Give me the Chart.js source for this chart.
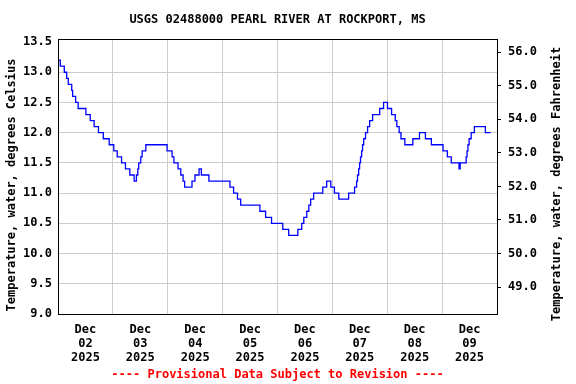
<!DOCTYPE html>
<html>
<head>
<meta charset="utf-8">
<script src="https://cdn.jsdelivr.net/npm/chart.js@4"></script>
<style>
  body { margin: 0; background: #fff; }
  canvas { display: block; }
</style>
</head>
<body>
<canvas id="chart-temp" width="576" height="384"></canvas>
<script>
// ==========================================
// Data
// ==========================================

const TITLE = 'USGS 02488000 PEARL RIVER AT ROCKPORT, MS';
const FOOTER = '---- Provisional Data Subject to Revision ----';
const Y_TITLE_LEFT = 'Temperature, water, degrees Celsius';
const Y_TITLE_RIGHT = 'Temperature, water, degrees Fahrenheit';

const MONTH_LABEL = 'Dec';
const YEAR_LABEL = '2025';
const DAY_LABELS = ['02', '03', '04', '05', '06', '07', '08', '09'];

// hours since Dec 02 00:00, and water temperature (deg C) from that hour on
const HOURS = [
  0, 1.0, 2.75, 3.8, 4.5, 6.0, 6.4, 7.7, 8.8, 12.2, 14.1, 15.8, 17.7, 19.8, 22.4,
  24.4, 25.9, 27.8, 29.5, 31.4, 33.3, 34.3, 34.9, 35.3, 36.2, 36.8, 38.4, 47.7,
  49.9, 50.7, 52.5, 53.7, 54.7, 55.4, 58.6, 59.9, 61.7, 62.7, 66.0,
  75.2, 76.8, 78.5, 79.9, 88.3, 90.8, 93.4, 98.3,
  100.9, 104.9, 106.6, 107.5, 108.8, 109.7, 110.5, 111.8, 115.8, 117.5, 119.3, 120.9,
  122.8, 127.1, 129.7, 130.6, 131.0, 131.5, 131.9, 132.3, 132.8, 133.2, 133.7, 134.5,
  135.4, 136.3, 137.6, 140.7, 142.4, 144.1, 145.9, 147.5, 148.2, 149.2, 150.0, 151.7,
  155.2, 158.1, 160.7, 163.3, 168.4, 170.3, 172.0, 175.4, 175.9, 178.5, 178.9, 179.3,
  179.8, 180.7, 182.1, 186.9, 189.2
];
const TEMP_C = [
  13.2, 13.1, 13.0, 12.9, 12.8, 12.7, 12.6, 12.5, 12.4, 12.3, 12.2, 12.1, 12.0, 11.9, 11.8,
  11.7, 11.6, 11.5, 11.4, 11.3, 11.2, 11.3, 11.4, 11.5, 11.6, 11.7, 11.8, 11.7,
  11.6, 11.5, 11.4, 11.3, 11.2, 11.1, 11.2, 11.3, 11.4, 11.3, 11.2,
  11.1, 11.0, 10.9, 10.8, 10.7, 10.6, 10.5, 10.4,
  10.3, 10.4, 10.5, 10.6, 10.7, 10.8, 10.9, 11.0, 11.1, 11.2, 11.1, 11.0,
  10.9, 11.0, 11.1, 11.2, 11.3, 11.4, 11.5, 11.6, 11.7, 11.8, 11.9, 12.0,
  12.1, 12.2, 12.3, 12.4, 12.5, 12.4, 12.3, 12.2, 12.1, 12.0, 11.9, 11.8,
  11.9, 12.0, 11.9, 11.8, 11.7, 11.6, 11.5, 11.4, 11.5, 11.6, 11.7, 11.8,
  11.9, 12.0, 12.1, 12.0, 12.0
];

const C_TICKS = [9.0, 9.5, 10.0, 10.5, 11.0, 11.5, 12.0, 12.5, 13.0, 13.5];
const F_TICKS = [49, 50, 51, 52, 53, 54, 55, 56];

const C_MIN = 9.0;
const C_MAX = 13.55;
const X_MAX = 192;

const FONT = 'DejaVu Sans Mono';
const toF = c => c * 1.8 + 32;

// ==========================================
// Titles and frame (drawn by hand)
// ==========================================

const usgsDecor = {
  id: 'usgsDecor',
  afterDatasetsDraw(chart) {
    const { ctx, chartArea } = chart;
    ctx.save();
    ctx.strokeStyle = '#000';
    ctx.lineWidth = 1;
    ctx.strokeRect(chartArea.left + 0.5, chartArea.top + 0.5,
      chartArea.right - chartArea.left, chartArea.bottom - chartArea.top);
    ctx.restore();
  },
  afterDraw(chart) {
    const { ctx, chartArea } = chart;
    const cx = (chartArea.left + chartArea.right) / 2;
    ctx.save();
    ctx.font = 'bold 12px "' + FONT + '"';
    ctx.textAlign = 'center';
    ctx.textBaseline = 'middle';

    ctx.fillStyle = '#000';
    ctx.fillText(TITLE, cx, 20);

    ctx.fillStyle = '#ff0000';
    ctx.fillText(FOOTER, cx, 375);

    ctx.fillStyle = '#000';
    ctx.save();
    ctx.translate(12, 185);
    ctx.rotate(-Math.PI / 2);
    ctx.fillText(Y_TITLE_LEFT, 0, 0);
    ctx.restore();

    ctx.save();
    ctx.translate(557, 184);
    ctx.rotate(-Math.PI / 2);
    ctx.fillText(Y_TITLE_RIGHT, 0, 0);
    ctx.restore();

    ctx.restore();
  }
};

// ==========================================
// Chart
// ==========================================

const tickFont = { family: FONT, size: 12, weight: 'bold', lineHeight: 14 / 12 };

new Chart(document.getElementById('chart-temp'), {
  type: 'line',
  data: {
    datasets: [{
      data: HOURS.map((h, i) => ({ x: h, y: TEMP_C[i] })),
      borderColor: '#0000ff',
      borderWidth: 1.3,
      pointRadius: 0,
      stepped: true,
      fill: false,
      yAxisID: 'y'
    }]
  },
  options: {
    responsive: false,
    animation: false,
    devicePixelRatio: 1,
    layout: { padding: { top: 39, left: 0, right: 0, bottom: 0 } },
    plugins: {
      legend: { display: false },
      title: { display: false },
      tooltip: { enabled: false }
    },
    scales: {
      x: {
        type: 'linear',
        min: 0,
        max: X_MAX,
        afterBuildTicks: scale => {
          const ticks = [];
          for (let v = 0; v <= X_MAX; v += 12) ticks.push({ value: v });
          scale.ticks = ticks;
        },
        afterFit: scale => { scale.height = 70; },
        border: { display: false },
        grid: {
          drawTicks: false,
          color: ctx => (ctx.tick && ctx.tick.value % 24 === 0) ? '#cccccc' : 'rgba(0,0,0,0)',
          lineWidth: 1
        },
        ticks: {
          autoSkip: false,
          maxRotation: 0,
          padding: 9,
          color: '#000',
          font: tickFont,
          callback: value => {
            if ((value - 12) % 24 !== 0) return '';
            const i = (value - 12) / 24;
            return [MONTH_LABEL, DAY_LABELS[i], YEAR_LABEL];
          }
        }
      },
      y: {
        position: 'left',
        min: C_MIN,
        max: C_MAX,
        afterBuildTicks: scale => { scale.ticks = C_TICKS.map(v => ({ value: v })); },
        afterFit: scale => { scale.width = 58; },
        border: { display: false },
        grid: {
          drawTicks: false,
          color: ctx => (ctx.tick && ctx.tick.value === 13.5) ? 'rgba(0,0,0,0)' : '#cccccc'
        },
        ticks: {
          padding: 6,
          color: '#000',
          font: tickFont,
          callback: v => Number(v).toFixed(1)
        }
      },
      yF: {
        position: 'right',
        min: toF(C_MIN),
        max: toF(C_MAX),
        afterBuildTicks: scale => { scale.ticks = F_TICKS.map(v => ({ value: v })); },
        afterFit: scale => { scale.width = 79; },
        border: { display: false },
        grid: {
          drawOnChartArea: false,
          drawTicks: true,
          tickLength: 4,
          color: '#000'
        },
        ticks: {
          padding: 7,
          color: '#000',
          font: tickFont,
          callback: v => Number(v).toFixed(1)
        }
      }
    }
  },
  plugins: [usgsDecor]
});
</script>
</body>
</html>
